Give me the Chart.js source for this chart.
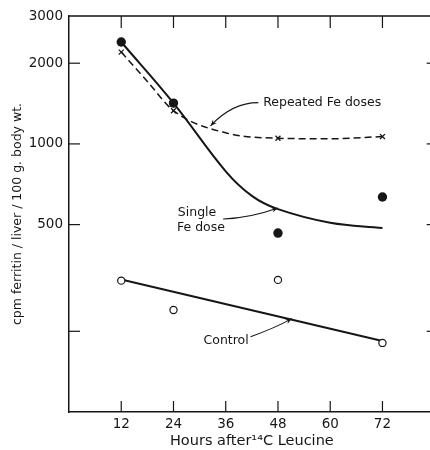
<!DOCTYPE html>
<html>
<head>
<meta charset="utf-8">
<script src="https://cdn.jsdelivr.net/npm/chart.js@4.4.0/dist/chart.umd.min.js"></script>
<style>
html, body { margin: 0; padding: 0; background: #fff; overflow: hidden; }
#wrap { width: 440px; height: 450px; }
</style>
</head>
<body>
<div id="wrap"><canvas id="ferritinChart"></canvas></div>
<script>
// sampling times (hours after 14C leucine)
var hours = [12, 24, 48, 72];
// measured points, cpm ferritin / liver / 100 g body wt.
var singleDose = [2400, 1420, 465, 634];
var repeatedDose = [2200, 1330, 1050, 1065];
var control = [309, 240, 311, 181];
// hand drawn curve for the single dose group
var curveHours = [12, 24, 36, 42, 48, 60, 72];
var singleCurve = [2400, 1420, 790, 640, 571, 508, 486];
// hand drawn curve for the repeated dose group
var repeatedCurveHours = [12, 18, 24, 36, 48, 60, 72];
var repeatedCurve = [2200, 1711, 1330, 1100, 1050, 1045, 1065];
// straight fit for the control group
var controlFitHours = [12, 72];
var controlFit = [312, 184];

var xTicks = [12, 24, 36, 48, 60, 72];
var yTicks = [100, 200, 500, 1000, 2000, 3000];
var yTickLabels = ['', '', '500', '1000', '2000', '3000'];

var ink = '#161616';
var fontFamily = '"DejaVu Sans", "Liberation Sans", sans-serif';

function toPoints(xs, ys) {
	return xs.map(function(x, i) { return {x: x, y: ys[i]}; });
}

// labels with their arrows, in data units
var _notes = [
	{text: 'Repeated Fe doses', x: 44.6, y: 1430,
	 arrow: {from: [43.5, 1425], ctrl: [37.5, 1426], to: [32.5, 1167]}},
	{text: 'Single', x: 25.0, y: 552,
	 arrow: {from: [35.4, 525], ctrl: [41.5, 529], to: [48.0, 577]}},
	{text: 'Fe dose', x: 24.8, y: 485},
	{text: 'Control', x: 30.9, y: 185,
	 arrow: {from: [41.7, 191], ctrl: [47.1, 205], to: [51.2, 223]}}
];

function line(ctx, x1, y1, x2, y2) {
	ctx.beginPath();
	ctx.moveTo(x1, y1);
	ctx.lineTo(x2, y2);
	ctx.stroke();
}

var framePlugin = {
	id: 'frame',
	afterDraw: function(chart) {
		var ctx = chart.ctx;
		var a = chart.chartArea;
		var x = chart.scales.x;
		var y = chart.scales.y;
		ctx.save();
		ctx.strokeStyle = ink;
		ctx.lineWidth = 1.5;
		ctx.beginPath();
		ctx.moveTo(a.left, a.top);
		ctx.lineTo(a.right, a.top);
		ctx.lineTo(a.right, a.bottom);
		ctx.stroke();

		// ticks point inward on every side
		ctx.lineWidth = 1.2;
		xTicks.forEach(function(v) {
			var px = x.getPixelForValue(v);
			line(ctx, px, a.bottom, px, a.bottom - 11);
			line(ctx, px, a.top, px, a.top + 12);
		});
		yTicks.forEach(function(v) {
			if (v <= y.min || v >= y.max) return;
			var py = y.getPixelForValue(v);
			line(ctx, a.left, py, a.left + 11, py);
			line(ctx, a.right, py, a.right - 8, py);
		});
		ctx.restore();
	}
};

var notesPlugin = {
	id: 'notes',
	afterDraw: function(chart) {
		var ctx = chart.ctx;
		var x = chart.scales.x;
		var y = chart.scales.y;
		function px(p) { return [x.getPixelForValue(p[0]), y.getPixelForValue(p[1])]; }

		ctx.save();
		ctx.fillStyle = ink;
		ctx.strokeStyle = ink;
		ctx.font = '12.5px ' + fontFamily;
		ctx.textAlign = 'left';
		ctx.textBaseline = 'middle';
		_notes.forEach(function(n) {
			ctx.fillText(n.text, x.getPixelForValue(n.x), y.getPixelForValue(n.y));
			if (!n.arrow) return;
			var s = px(n.arrow.from), c = px(n.arrow.ctrl), t = px(n.arrow.to);
			ctx.lineWidth = 1.1;
			ctx.beginPath();
			ctx.moveTo(s[0], s[1]);
			ctx.quadraticCurveTo(c[0], c[1], t[0], t[1]);
			ctx.stroke();
			// arrow head
			var ang = Math.atan2(t[1] - c[1], t[0] - c[0]);
			var len = 7, spread = 0.38;
			ctx.beginPath();
			ctx.moveTo(t[0], t[1]);
			ctx.lineTo(t[0] - len * Math.cos(ang - spread), t[1] - len * Math.sin(ang - spread));
			ctx.lineTo(t[0] - len * 0.6 * Math.cos(ang), t[1] - len * 0.6 * Math.sin(ang));
			ctx.lineTo(t[0] - len * Math.cos(ang + spread), t[1] - len * Math.sin(ang + spread));
			ctx.closePath();
			ctx.fill();
		});
		ctx.restore();
	}
};

var _config = {
	type: 'scatter',
	data: {
		datasets: [
			{
				data: toPoints(curveHours, singleCurve),
				showLine: true,
				tension: 0.4,
				borderColor: ink,
				borderWidth: 2,
				pointRadius: 0,
				order: 3
			},
			{
				data: toPoints(repeatedCurveHours, repeatedCurve),
				showLine: true,
				cubicInterpolationMode: 'monotone',
				borderColor: ink,
				borderWidth: 1.5,
				borderDash: [7, 4],
				pointRadius: 0,
				order: 3
			},
			{
				data: toPoints(hours, repeatedDose),
				pointStyle: 'crossRot',
				pointRadius: 3.5,
				pointBorderWidth: 1.3,
				pointBorderColor: ink,
				order: 2
			},
			{
				data: toPoints(controlFitHours, controlFit),
				showLine: true,
				borderColor: ink,
				borderWidth: 2,
				pointRadius: 0,
				order: 3
			},
			{
				data: toPoints(hours, singleDose),
				pointRadius: 4.7,
				backgroundColor: ink,
				borderWidth: 0,
				order: 1
			},
			{
				data: toPoints(hours, control),
				pointRadius: 3.6,
				backgroundColor: '#fff',
				borderColor: ink,
				borderWidth: 1.2,
				order: 1
			}
		]
	},
	options: {
		responsive: true,
		maintainAspectRatio: false,
		animation: false,
		layout: { padding: { top: 16, right: 4, left: 0, bottom: 0 } },
		plugins: {
			legend: { display: false },
			tooltip: { enabled: false }
		},
		scales: {
			x: {
				type: 'linear',
				min: 0,
				max: 84,
				afterBuildTicks: function(scale) {
					scale.ticks = xTicks.map(function(v) { return {value: v}; });
				},
				afterFit: function(scale) { scale.height = 38; },
				grid: { display: false, drawTicks: false },
				border: { display: true, color: ink, width: 1.5 },
				ticks: {
					color: ink,
					padding: 4,
					maxRotation: 0,
					font: { family: fontFamily, size: 13.5 }
				},
				title: {
					display: true,
					text: 'Hours after\u00b9\u2074C Leucine',
					color: ink,
					padding: { top: 0, bottom: 0 },
					font: { family: fontFamily, size: 14.5 }
				}
			},
			y: {
				type: 'logarithmic',
				min: 100,
				max: 3000,
				afterBuildTicks: function(scale) {
					scale.ticks = yTicks.map(function(v) { return {value: v}; });
				},
				afterFit: function(scale) { scale.width = 69; },
				grid: { display: false, drawTicks: false },
				border: { display: true, color: ink, width: 1.5 },
				ticks: {
					color: ink,
					padding: 6,
					font: { family: fontFamily, size: 13.5 },
					callback: function(value) {
						return yTickLabels[yTicks.indexOf(value)];
					}
				},
				title: {
					display: true,
					text: 'cpm ferritin / liver / 100 g. body wt.',
					color: ink,
					padding: { top: 10, bottom: 0 },
					font: { family: fontFamily, size: 12.5 }
				}
			}
		}
	},
	plugins: [framePlugin, notesPlugin]
};

var myChart = new Chart(document.getElementById('ferritinChart'), _config);
</script>
</body>
</html>
